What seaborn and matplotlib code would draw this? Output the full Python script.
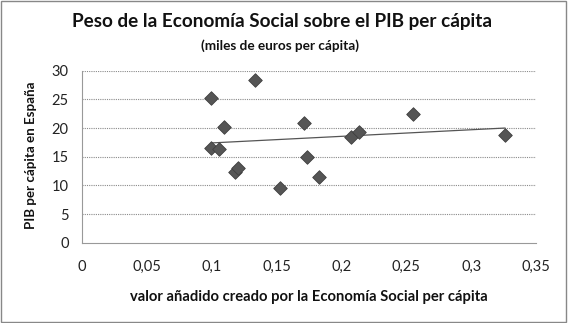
import matplotlib
matplotlib.use("Agg")
import matplotlib.pyplot as plt
import seaborn as sns
import pandas as pd
from matplotlib.patches import Rectangle
from matplotlib.ticker import FuncFormatter

valor_anadido = [0.0998, 0.133, 0.1095, 0.0998, 0.1056, 0.1177, 0.1203, 0.1523,
                 0.171, 0.1736, 0.183, 0.2074, 0.2138, 0.2549, 0.3262]
pib_per_capita = [25.2, 28.3, 20.2, 16.55, 16.3, 12.4, 12.95, 9.5,
                  20.8, 15.0, 11.4, 18.4, 19.3, 22.4, 18.8]
# linear trend line as drawn in the original
trend_x = [0.0998, 0.3262]
trend_y = [17.4, 20.0]
x_ticks = [0, 0.05, 0.1, 0.15, 0.2, 0.25, 0.3, 0.35]
y_ticks = [0, 5, 10, 15, 20, 25, 30]

df = pd.DataFrame({"x": valor_anadido, "y": pib_per_capita})
trend = pd.DataFrame({"x": trend_x, "y": trend_y})

sns.set_theme(style="white")
plt.rcParams['font.family'] = ['Lato', 'DejaVu Sans']

fig = plt.figure(figsize=(5.68, 3.23), dpi=100)
ax = fig.add_axes([82/568, 1-242.7/323, (536-82)/568, (242.7-70.7)/323])

sns.lineplot(data=trend, x="x", y="y", ax=ax, color="#555555", lw=0.9, zorder=2)
sns.scatterplot(data=df, x="x", y="y", ax=ax, marker="D", s=48, color="#555555",
                edgecolor="#3f3f3f", linewidth=0.6, zorder=3)

ax.set_xlim(0, 0.35)
ax.set_ylim(0, 30)
ax.set_xticks(x_ticks)
ax.set_yticks(y_ticks)
ax.xaxis.set_major_formatter(FuncFormatter(lambda v, p: ("%g" % round(v, 2)).replace(".", ",")))
ax.tick_params(axis="both", labelsize=10.5, colors="#222222")
ax.tick_params(axis="x", length=3, color="#aaaaaa", direction="out", width=0.8, pad=9.5)
ax.tick_params(axis="y", length=3.3, color="#aaaaaa", direction="out", width=0.8, pad=6.3)
for y in y_ticks[1:]:
    ax.axhline(y, color="#8a8a8a", lw=0.8, ls=(0, (1, 1)), zorder=1)
for s in ["top", "right"]:
    ax.spines[s].set_visible(False)
for s in ["left", "bottom"]:
    ax.spines[s].set_color("#999999")
    ax.spines[s].set_linewidth(0.8)
    ax.spines[s].set_linestyle((0, (1, 1)))
ax.grid(False)

ax.set_xlabel("valor añadido creado por la Economía Social per cápita",
              fontsize=10.6, fontweight="bold", color="#111111")
ax.xaxis.set_label_coords((309-82)/454, -(290-242.7)/172)
ax.set_ylabel("PIB per cápita en España", fontsize=9.6, fontweight="bold",
              color="#111111")
ax.yaxis.set_label_coords(-(82-37)/454, (242.7-155)/172)

fig.text(0.497, 1-21/323, "Peso de la Economía Social sobre el PIB per cápita",
         ha="center", va="center", fontsize=13.6, fontweight="bold", color="#111111")
fig.text(0.493, 1-46/323, "(miles de euros per cápita)",
         ha="center", va="center", fontsize=9.8, fontweight="bold", color="#111111")

fig.patches.append(Rectangle((0.002, 0.003), 0.995, 0.993, transform=fig.transFigure,
                             fill=False, edgecolor="#888888", lw=1))

fig.savefig("out.png", dpi=100, facecolor="white")
